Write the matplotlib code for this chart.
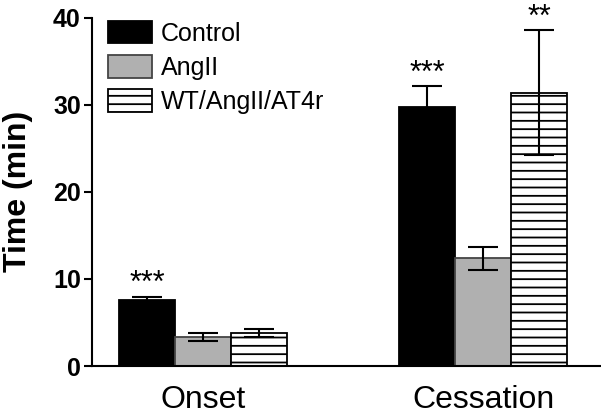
import numpy as np
import matplotlib
matplotlib.use('Agg')
import matplotlib.pyplot as plt

plt.rcParams['font.family'] = ['Liberation Sans', 'DejaVu Sans']
plt.rcParams['hatch.linewidth'] = 1.3

# data
groups = ['Onset', 'Cessation']
series = ['Control', 'AngII', 'WT/AngII/AT4r']
means = {
    'Control': [7.6, 29.75],
    'AngII': [3.3, 12.35],
    'WT/AngII/AT4r': [3.8, 31.4],
}
errs = {
    'Control': [0.38, 2.4],
    'AngII': [0.45, 1.3],
    'WT/AngII/AT4r': [0.42, 7.2],
}
stars = {
    'Control': ['***', '***'],
    'AngII': ['', ''],
    'WT/AngII/AT4r': ['', '**'],
}
colors = {'Control': 'black', 'AngII': '#b0b0b0', 'WT/AngII/AT4r': 'white'}
hatches = {'Control': None, 'AngII': None, 'WT/AngII/AT4r': '--'}
edges = {'Control': 'black', 'AngII': '#444444', 'WT/AngII/AT4r': 'black'}

fig = plt.figure(figsize=(6.01, 4.15), dpi=100)
ax = fig.add_axes([0.153, 0.118, 0.847, 0.8395])

centers = np.array([0, 5])
offsets = [-1, 0, 1]
for i, s in enumerate(series):
    xs = centers + offsets[i]
    ax.bar(xs, means[s], width=1.0, color=colors[s], edgecolor=edges[s],
           linewidth=1.3, hatch=hatches[s], label=s, zorder=2)
    ax.errorbar(xs, means[s], yerr=errs[s], fmt='none', ecolor='black',
                elinewidth=1.5, capsize=10.8, capthick=1.5, zorder=3)
    for x, m, e, st in zip(xs, means[s], errs[s], stars[s]):
        if st:
            ax.annotate(st, (x, m + e), xytext=(0, 3), textcoords='offset points',
                        ha='center', va='baseline', fontsize=22, annotation_clip=False)

ax.set_xlim(-1.98, 7.1)
ax.set_ylim(0, 40)
ax.set_yticks([0, 10, 20, 30, 40])
ax.set_xticks(centers)
ax.set_xticklabels(groups, fontsize=23)
ax.tick_params(axis='x', length=0, pad=14)
ax.tick_params(axis='y', length=6, width=1.5, labelsize=18, pad=2)
for lab in ax.get_yticklabels():
    lab.set_fontweight('bold')
ax.set_ylabel('Time (min)', fontsize=23, fontweight='bold')
ax.yaxis.set_label_coords(-0.1165, 0.5)
ax.spines['top'].set_visible(False)
ax.spines['right'].set_visible(False)
ax.spines['left'].set_linewidth(1.5)
ax.spines['bottom'].set_linewidth(1.5)

ax.legend(loc='upper left', bbox_to_anchor=(108 / 601, 1 - 21 / 415),
          bbox_transform=fig.transFigure, frameon=False, fontsize=18,
          handlelength=1.76, handleheight=1.0, handletextpad=0.35,
          labelspacing=0.38, borderpad=0, borderaxespad=0)

fig.savefig('out.png', dpi=100)
